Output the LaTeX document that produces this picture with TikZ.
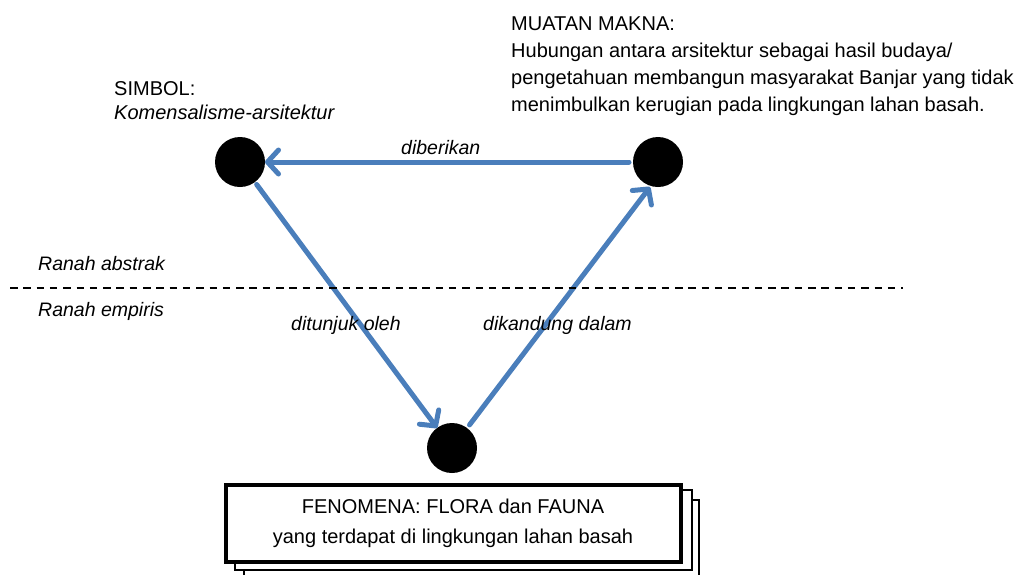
\documentclass[tikz,border=0pt]{standalone}
\usepackage{fontspec}
\setmainfont{Liberation Sans}
\usetikzlibrary{arrows.meta}
\definecolor{arrowblue}{HTML}{4A7EBB}
\tikzset{
  dot/.style={circle,fill=black,minimum size=50pt,inner sep=0pt,outer sep=0pt},
  link/.style={draw=arrowblue,line width=5pt,line cap=round,
    -{Straight Barb[length=11pt,width=24pt,round]}},
  ilbl/.style={font=\fontsize{19.5}{26}\selectfont\itshape,inner sep=0pt,anchor=west},
  block/.style={font=\fontsize{20}{27}\selectfont,inner sep=0pt,align=left,anchor=north west}
}
\begin{document}
\begin{tikzpicture}[x=1pt,y=-1pt]
\useasboundingbox (0,0) rectangle (1014,574);
% circles
\node[dot] (L) at (240,162) {};
\node[dot] (R) at (658,162) {};
\node[dot] (B) at (452,448) {};
\coordinate (Rin) at (650,187);
% arrows
\draw[link, shorten <=4pt] (R) -- (L);
\draw[link, shorten <=3pt] (L) -- (B);
\draw[link, shorten <=4pt] (B) -- (Rin);
% dashed separator
\coordinate (d1) at (10,288);
\coordinate (d2) at (903,288);
\draw[line width=1.5pt,dash pattern=on 7.5pt off 5.8pt] (d1) -- (d2);
% labels
\node[block,font=\fontsize{20}{24}\selectfont] (simbol) at (114,81) {SIMBOL:\\\itshape Komensalisme-arsitektur};
\node[block] (muatan) at (511,17) {MUATAN MAKNA:\\Hubungan antara arsitektur sebagai hasil budaya/\\pengetahuan membangun masyarakat Banjar yang tidak\\menimbulkan kerugian pada lingkungan lahan basah.};
\node[ilbl] (diberikan) at (401,148) {diberikan};
\node[ilbl] (abstrak) at (38,264) {Ranah abstrak};
\node[ilbl] (empiris) at (38,311) {Ranah empiris};
\node[ilbl] (ditunjuk) at (291,325) {ditunjuk oleh};
\node[ilbl] (dikandung) at (483,325) {dikandung dalam};
% bottom stacked box
\draw[line width=1.5pt,fill=white] (244,500) rectangle (699,576);
\draw[line width=1.5pt,fill=white] (235,490) rectangle (692,570);
\node[draw,line width=4pt,fill=white,minimum width=455pt,minimum height=77pt,
  font=\fontsize{20}{30}\selectfont,align=center,inner sep=0pt] (feno) at (453,523)
  {FENOMENA: FLORA dan FAUNA\\yang terdapat di lingkungan lahan basah};
\end{tikzpicture}
\end{document}
